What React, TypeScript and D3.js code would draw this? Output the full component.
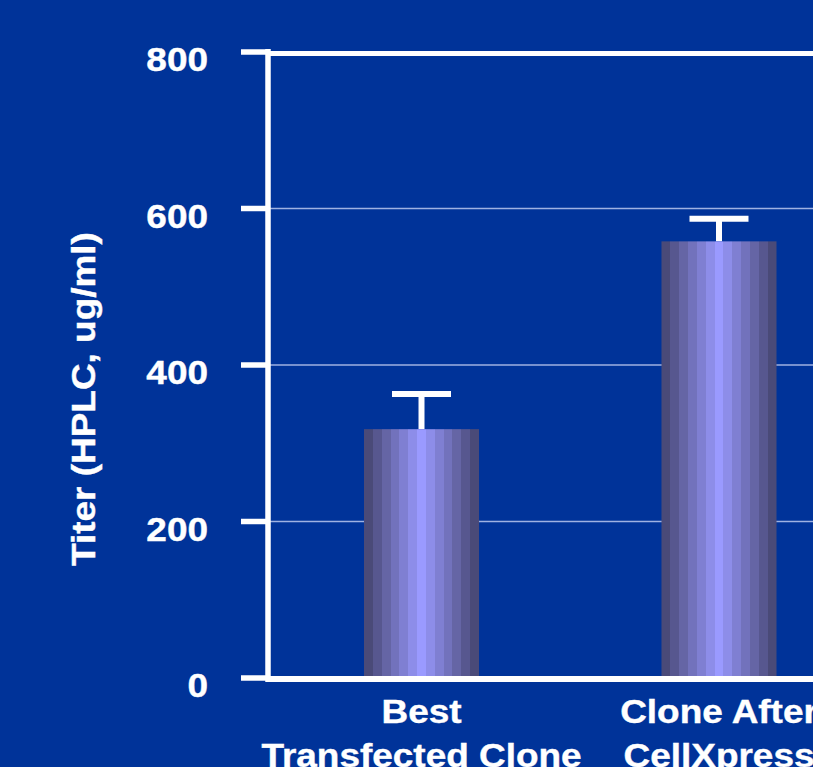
import React from "react";
import * as d3 from "d3";

// Titer by clone (HPLC, ug/ml)
const categories: string[][] = [
  ["Best", "Transfected Clone"],
  ["Clone After", "CellXpress"],
];
const titers: number[] = [318, 558];
const errorTops: number[] = [363, 587];
const yTicks: number[] = [0, 200, 400, 600, 800];
const gridValues: number[] = [200, 400, 600];
const yLabel = "Titer (HPLC, ug/ml)";

const W = 813;
const H = 767;
const BG = "#003399";
const FONT = "'Liberation Sans', Arial, Helvetica, sans-serif";
const SX = 1.12;

// Stepped stripe colours across a bar, dark edges to light centre
const stripeCount = 13;
const dark = "#4a4a78";
const light = "#9a9aff";

export default function App() {
  const axisX = 268;
  const y = d3.scaleLinear().domain([0, 800]).range([678, 52]);
  const keys = categories.map((c) => c.join(" "));
  const x = d3
    .scaleBand<string>()
    .domain(keys)
    .range([axisX, 872.5])
    .paddingInner(0.6134)
    .paddingOuter(0.3227);
  const bw = x.bandwidth();

  const mid = (stripeCount - 1) / 2;
  const stops: { offset: number; color: string }[] = [];
  for (let i = 0; i < stripeCount; i++) {
    const t = 1 - Math.abs(i - mid) / mid;
    const color = d3.interpolateRgb(dark, light)(t);
    stops.push({ offset: i / stripeCount, color });
    stops.push({ offset: (i + 1) / stripeCount, color });
  }

  const textProps = {
    fill: "#fff",
    fontFamily: FONT,
    fontWeight: "bold" as const,
    fontSize: 33,
    stroke: "#fff",
    strokeWidth: 0.4,
  };

  return (
    <svg
      width={W}
      height={H}
      style={{ position: "fixed", left: 0, top: 0, display: "block" }}
    >
      <defs>
        <linearGradient id="barStripes" x1="0" x2="1" y1="0" y2="0">
          {stops.map((s, i) => (
            <stop key={i} offset={s.offset} stopColor={s.color} />
          ))}
        </linearGradient>
      </defs>
      <rect x={0} y={0} width={W} height={H} fill={BG} />

      {/* gridlines */}
      {gridValues.map((v) => (
        <line
          key={v}
          x1={axisX}
          x2={W}
          y1={y(v)}
          y2={y(v)}
          stroke="#9fb2e2"
          strokeWidth={1.3}
        />
      ))}

      {/* bars with upper error bars */}
      {keys.map((k, i) => {
        const cx = (x(k) as number) + bw / 2;
        return (
          <g key={k}>
            <line
              x1={cx}
              x2={cx}
              y1={y(titers[i])}
              y2={y(errorTops[i])}
              stroke="#ffffff"
              strokeWidth={6}
            />
            <line
              x1={cx - 29.5}
              x2={cx + 29.5}
              y1={y(errorTops[i])}
              y2={y(errorTops[i])}
              stroke="#ffffff"
              strokeWidth={6}
            />
            <rect
              x={x(k)}
              y={y(titers[i])}
              width={bw}
              height={y(0) - y(titers[i])}
              fill="url(#barStripes)"
            />
          </g>
        );
      })}

      {/* plot frame: top border, bottom axis, left axis */}
      <line x1={axisX} x2={W} y1={53.5} y2={53.5} stroke="#fff" strokeWidth={5} />
      <line x1={axisX - 2} x2={W} y1={679} y2={679} stroke="#fff" strokeWidth={6} />
      <line x1={axisX} x2={axisX} y1={y(800) - 3} y2={682} stroke="#fff" strokeWidth={5.5} />

      {/* y ticks and labels */}
      {yTicks.map((v) => (
        <g key={v}>
          <line x1={241} x2={axisX} y1={y(v)} y2={y(v)} stroke="#fff" strokeWidth={5.5} />
          <text
            transform={`translate(208,${y(v) + 19}) scale(${SX},1)`}
            textAnchor="end"
            {...textProps}
          >
            {v}
          </text>
        </g>
      ))}

      {/* y axis title */}
      <text
        transform={`translate(95,399) rotate(-90) scale(${SX},1)`}
        textAnchor="middle"
        {...textProps}
      >
        {yLabel}
      </text>

      {/* category labels */}
      {keys.map((k, i) => {
        const cx = (x(k) as number) + bw / 2;
        return categories[i].map((line, j) => (
          <text
            key={k + j}
            transform={`translate(${cx},${723 + j * 44}) scale(${SX},1)`}
            textAnchor="middle"
            {...textProps}
          >
            {line}
          </text>
        ));
      })}
    </svg>
  );
}
